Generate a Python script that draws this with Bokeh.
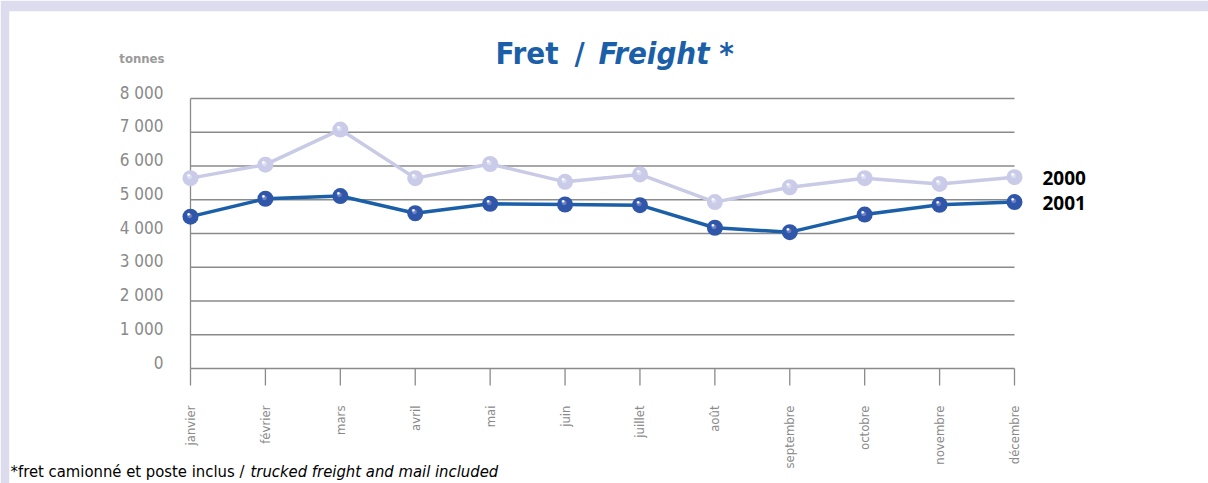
import math
from bokeh.plotting import figure
from bokeh.models import Range1d, Label, LabelSet, ColumnDataSource
from bokeh.core.properties import value
from bokeh.embed import file_html
from bokeh.resources import INLINE

# ---- data ----
months = ["janvier", "février", "mars", "avril", "mai", "juin", "juillet",
          "août", "septembre", "octobre", "novembre", "décembre"]
fret_2000 = [5640, 6040, 7080, 5640, 6060, 5530, 5750, 4930, 5370, 5640, 5470, 5670]
fret_2001 = [4500, 5030, 5110, 4600, 4880, 4860, 4840, 4170, 4040, 4560, 4850, 4930]
series_names = ["2000", "2001"]
y_ticks = [0, 1000, 2000, 3000, 4000, 5000, 6000, 7000, 8000]
y_tick_labels = ["0", "1 000", "2 000", "3 000", "4 000", "5 000", "6 000", "7 000", "8 000"]
title_fr = "Fret"
title_sep = "/"
title_en = "Freight *"
unit_label = "tonnes"
note_fr = "*fret camionné et poste inclus /"
note_en = "trucked freight and mail included"

# ---- layout geometry (page pixels) ----
W, H = 1208, 483
PAD_L, PAD_T = 9, 11            # lavender frame strips
AX_L, AX_R = 190, 1014          # first / last month position
AX_TOP, AX_BOT = 98, 368        # top / bottom gridline

xs = list(range(len(months)))
ppx = (AX_R - AX_L) / (len(months) - 1)             # px per month
ppy = (AX_BOT - AX_TOP) / (y_ticks[-1] - y_ticks[0])  # px per tonne

# ---- styles ----
COND = "DejaVu Sans Condensed"
GRAY = "#8a8a8a"
BLUE_TITLE = "#1b5fa9"
LIGHT_LINE = "#c8cae6"
LIGHT_DOT = "#c9cbe8"
DARK_LINE = "#1a5fa8"
DARK_DOT = "#2f56a8"
LAVENDER = "#dcdcee"

p = figure(width=W, height=H,
           x_range=Range1d(xs[0] - (AX_L - PAD_L) / ppx, xs[-1] + (W - AX_R) / ppx),
           y_range=Range1d(y_ticks[0] - (H - AX_BOT) / ppy, y_ticks[-1] + (AX_TOP - PAD_T) / ppy),
           output_backend="svg", toolbar_location=None,
           min_border_left=PAD_L, min_border_top=PAD_T,
           min_border_right=0, min_border_bottom=0)
p.outline_line_color = None
p.background_fill_color = "white"
p.border_fill_color = LAVENDER
p.grid.visible = False
p.xaxis.visible = False
p.yaxis.visible = False

n = len(y_ticks)
# gridlines
p.segment(x0=[xs[0]] * n, x1=[xs[-1]] * n, y0=y_ticks, y1=y_ticks,
          line_color=GRAY, line_width=1.3)
# y axis line
p.segment(x0=[xs[0]], x1=[xs[0]], y0=[y_ticks[0]], y1=[y_ticks[-1]],
          line_color=GRAY, line_width=1.3)
# x ticks (pointing down)
p.ray(x=xs, y=[y_ticks[0]] * len(xs), length=17, length_units="screen",
      angle=-math.pi / 2, line_color=GRAY, line_width=1.3)

# month labels
msrc = ColumnDataSource(dict(x=xs, y=[y_ticks[0]] * len(xs), t=months))
p.add_layout(LabelSet(x="x", y="y", text="t", source=msrc, angle=math.pi / 2,
                      y_offset=-37, text_align="right", text_baseline="middle",
                      text_font=value(COND), text_font_size="13px", text_color=GRAY))

# y tick labels
ysrc = ColumnDataSource(dict(x=[xs[0]] * n, y=y_ticks, t=y_tick_labels))
p.add_layout(LabelSet(x="x", y="y", text="t", source=ysrc, x_offset=-27, y_offset=0,
                      text_align="right", text_baseline="alphabetic",
                      text_font=value(COND), text_font_size="17px", text_color=GRAY))

# series
def sphere(vals, base, mid):
    p.scatter(xs, vals, size=16, fill_color=base, line_color=None)
    p.text(xs, vals, text=value("●"), text_font_size="11px", text_color=mid,
           text_align="center", text_baseline="middle", x_offset=-1, y_offset=-2)
    p.text(xs, vals, text=value("●"), text_font_size="6px", text_color="white",
           text_align="center", text_baseline="middle", x_offset=-2, y_offset=-3)

p.line(xs, fret_2000, line_color=LIGHT_LINE, line_width=3.5)
sphere(fret_2000, LIGHT_DOT, "#dcdef2")
p.line(xs, fret_2001, line_color=DARK_LINE, line_width=3.5)
sphere(fret_2001, DARK_DOT, "#6a80c8")

for name, vals in zip(series_names, [fret_2000, fret_2001]):
    p.add_layout(Label(x=xs[-1], y=vals[-1], x_offset=28, y_offset=-1, text=name,
                       text_baseline="middle", text_align="left",
                       text_font="Open Sans", text_font_style="bold",
                       text_font_size="19px", text_color="black"))

# screen positions are measured from the frame's bottom-left corner
def sx(px):
    return px - PAD_L

def sy(py):
    return H - py

# title
for txt, px, style in [(title_fr, 495, "bold"), (title_sep, 574, "bold"),
                       (title_en, 598, "bold italic")]:
    p.add_layout(Label(x=sx(px), y=sy(52), x_units="screen", y_units="screen", text=txt,
                       text_font=COND, text_font_style=style,
                       text_font_size="31px", text_color=BLUE_TITLE,
                       text_baseline="alphabetic", text_align="left"))

# unit
p.add_layout(Label(x=sx(164), y=sy(58), x_units="screen", y_units="screen", text=unit_label,
                   text_font=COND, text_font_style="bold",
                   text_font_size="13px", text_color="#9a9a9a",
                   text_baseline="alphabetic", text_align="right"))

# footnote
p.add_layout(Label(x=sx(10), y=sy(471), x_units="screen", y_units="screen", text=note_fr,
                   text_font=COND, text_font_size="16.5px", text_color="black",
                   text_baseline="alphabetic", text_align="left"))
p.add_layout(Label(x=sx(250), y=sy(471), x_units="screen", y_units="screen", text=note_en,
                   text_font=COND, text_font_style="italic",
                   text_font_size="16.5px", text_color="black",
                   text_baseline="alphabetic", text_align="left"))

open("out.html", "w").write(file_html(p, INLINE))
